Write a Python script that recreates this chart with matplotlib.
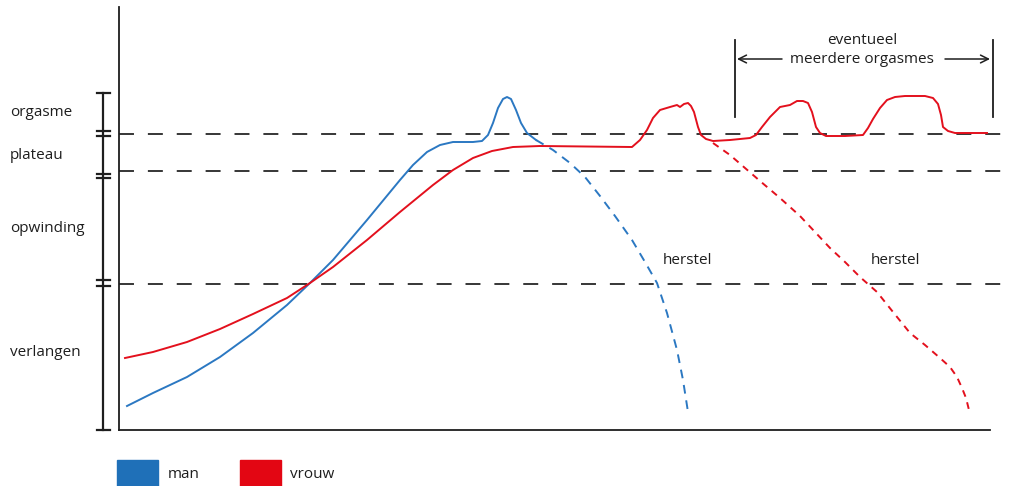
import matplotlib
matplotlib.use("Agg")
import matplotlib.pyplot as plt
from matplotlib.patches import Rectangle

plt.rcParams['font.family'] = ['Open Sans', 'DejaVu Sans']

# phase levels (arbitrary arousal units) and labels
phase_names = ["orgasme", "plateau", "opwinding", "verlangen"]
phase_label_y = [318, 275, 202, 78]
phase_bounds = [337, 299, 294, 256, 252, 150, 144, 0]
threshold_levels = [296, 259, 146]

# man
man_x = [8, 34, 68, 101, 134, 168, 191, 214, 248, 281, 294, 308, 321, 334,
         354, 363, 369, 374, 379, 384, 388, 392, 397, 402, 408, 417]
man_y = [24, 37, 53, 73, 97, 125, 147, 170, 210, 250, 265, 278, 285, 288,
         288, 289, 295, 307, 322, 331, 333, 331, 320, 307, 297, 290]
man_rec_x = [417, 434, 451, 466, 481, 496, 513, 526, 538, 548, 558, 564, 569]
man_rec_y = [290, 280, 267, 253, 234, 214, 190, 168, 147, 117, 80, 50, 18]

# vrouw
vrouw_x = [6, 34, 68, 101, 134, 168, 191, 214, 248, 281, 314, 334, 354, 373,
           394, 421, 513, 521, 528, 534, 541, 551, 558, 561, 565, 569, 572,
           575, 579, 582, 587, 594, 611, 631, 637, 643, 651, 661, 671, 678,
           684, 689, 693, 697, 701, 707, 726, 744, 749, 754, 761, 768, 776,
           786, 806, 814, 819, 822, 824, 829, 836, 851, 868]
vrouw_y = [72, 78, 88, 101, 116, 132, 147, 163, 190, 218, 245, 260, 272, 279,
           283, 284, 283, 290, 300, 312, 320, 323, 325, 323, 326, 327, 324,
           318, 303, 295, 291, 289, 290, 292, 295, 303, 313, 323, 325, 329,
           329, 327, 318, 303, 297, 294, 294, 295, 302, 311, 322, 330, 333,
           334, 334, 332, 326, 315, 303, 299, 297, 297, 297]
vrouw_rec_x = [594, 611, 626, 641, 661, 681, 696, 711, 726, 741, 758, 774,
               791, 806, 821, 831, 838, 843, 847, 850]
vrouw_rec_y = [287, 275, 262, 249, 232, 214, 198, 182, 168, 153, 138, 118,
               97, 85, 72, 63, 53, 42, 32, 20]

herstel_x = [569, 777]
herstel_y = [170, 170]

blue = "#2b78c2"
red = "#e3101d"
ink = "#1e1e1e"
fs = 11

fig = plt.figure(figsize=(10.15, 4.86), dpi=100)
ax = fig.add_axes([119 / 1015, 56 / 486, 893 / 1015, 423 / 486])
ax.set_xlim(0, 893)
ax.set_ylim(0, 423)
ax.set_xticks([])
ax.set_yticks([])
for s in ["top", "right"]:
    ax.spines[s].set_visible(False)
for s in ["left", "bottom"]:
    ax.spines[s].set_color(ink)
    ax.spines[s].set_linewidth(1.3)
ax.spines["bottom"].set_bounds(0, 871)

# dashed thresholds
ax.hlines(threshold_levels, 0, 891, colors="black", linewidth=1.1,
          linestyles=(0, (9.8, 9.1)))

# curves
ax.plot(man_x, man_y, color=blue, lw=1.4)
ax.plot(man_rec_x, man_rec_y, color=blue, lw=1.4, ls=(0, (4.5, 3.5)))
ax.plot(vrouw_x, vrouw_y, color=red, lw=1.4)
ax.plot(vrouw_rec_x, vrouw_rec_y, color=red, lw=1.4, ls=(0, (3.5, 3)))

for hx, hy in zip(herstel_x, herstel_y):
    ax.text(hx, hy, "herstel", ha="center", va="center", fontsize=fs, color=ink)

# phase bracket on the left
ax.plot([-16, -16], [0, phase_bounds[0]], color=ink, lw=1.6, clip_on=False)
for b in phase_bounds:
    ax.plot([-22, -9], [b, b], color=ink, lw=1.6, clip_on=False)
for name, ly in zip(phase_names, phase_label_y):
    ax.text(-109, ly, name, ha="left", va="center", fontsize=fs, color=ink)

# multiple orgasms annotation
ax.plot([616, 616], [313, 390], color=ink, lw=1.3)
ax.plot([874, 874], [313, 390], color=ink, lw=1.3, clip_on=False)
ax.annotate("", xy=(618, 371), xytext=(663, 371),
            arrowprops=dict(arrowstyle="->", color=ink, lw=1.1,
                            mutation_scale=14, shrinkA=0, shrinkB=0))
ax.annotate("", xy=(871, 371), xytext=(826, 371),
            arrowprops=dict(arrowstyle="->", color=ink, lw=1.1,
                            mutation_scale=14, shrinkA=0, shrinkB=0))
ax.text(743, 390, "eventueel", ha="center", va="center", fontsize=fs, color=ink)
ax.text(743, 371, "meerdere orgasmes", ha="center", va="center", fontsize=fs,
        color=ink)

# legend
ax.add_patch(Rectangle((-2, -56), 41, 26, color="#1f70b8", clip_on=False))
ax.text(49, -44, "man", ha="left", va="center", fontsize=fs, color=ink)
ax.add_patch(Rectangle((121, -56), 41, 26, color="#e30613", clip_on=False))
ax.text(171, -44, "vrouw", ha="left", va="center", fontsize=fs, color=ink)

fig.savefig("out.png", dpi=100)
